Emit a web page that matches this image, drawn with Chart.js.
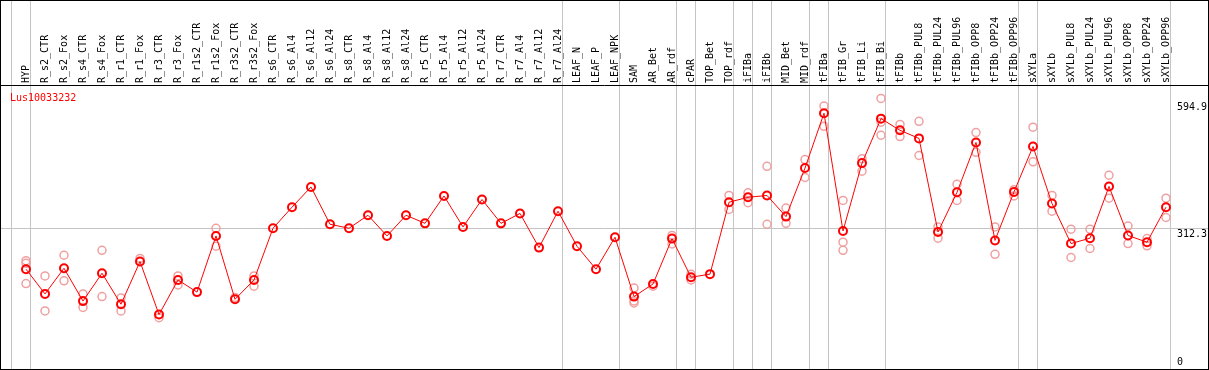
<!DOCTYPE html>
<html>
<head>
<meta charset="utf-8">
<script src="https://cdn.jsdelivr.net/npm/chart.js@4/dist/chart.umd.min.js"></script>
<style>
  html, body { margin: 0; padding: 0; background: #fff; }
  canvas { display: block; }
</style>
</head>
<body>
<canvas id="expr" width="1209" height="370"></canvas>
<script>
// Expression profile - Lus10033232
// ---------------------------------

const seriesName = 'Lus10033232';

const categories = [
    'HYP', 'R_s2_CTR', 'R_s2_Fox', 'R_s4_CTR', 'R_s4_Fox', 'R_r1_CTR', 'R_r1_Fox',
    'R_r3_CTR', 'R_r3_Fox', 'R_r1s2_CTR', 'R_r1s2_Fox', 'R_r3s2_CTR', 'R_r3s2_Fox',
    'R_s6_CTR', 'R_s6_Al4', 'R_s6_Al12', 'R_s6_Al24', 'R_s8_CTR', 'R_s8_Al4',
    'R_s8_Al12', 'R_s8_Al24', 'R_r5_CTR', 'R_r5_Al4', 'R_r5_Al12', 'R_r5_Al24',
    'R_r7_CTR', 'R_r7_Al4', 'R_r7_Al12', 'R_r7_Al24', 'LEAF_N', 'LEAF_P', 'LEAF_NPK',
    'SAM', 'AR_Bet', 'AR_rdf', 'cPAR', 'TOP_Bet', 'TOP_rdf', 'iFIBa', 'iFIBb',
    'MID_Bet', 'MID_rdf', 'tFIBa', 'tFIB_Gr', 'tFIB_Li', 'tFIB_Bi', 'tFIBb',
    'tFIBb_PUL8', 'tFIBb_PUL24', 'tFIBb_PUL96', 'tFIBb_OPP8', 'tFIBb_OPP24', 'tFIBb_OPP96',
    'sXYLa', 'sXYLb', 'sXYLb_PUL8', 'sXYLb_PUL24', 'sXYLb_PUL96', 'sXYLb_OPP8',
    'sXYLb_OPP24', 'sXYLb_OPP96'
];

// mean values (line)
const meanValues = [
    221, 166, 223, 150, 212, 143, 238, 120, 197, 170, 295, 154, 197,
    312, 359, 404, 321, 312, 341, 295, 341, 323, 384, 315, 376,
    323, 345, 269, 350, 272, 221, 292,
    160, 188, 289, 203, 210, 370, 381, 385, 338, 446,
    568, 306, 457, 556, 530, 512, 304, 392, 503, 285, 393,
    494, 367, 278, 290, 405, 296, 281, 359
];

// replicates (pale circles)
const rep1 = [
    240, 206, 252, 166, 263, 157, 245, 113, 206, null, 312, 158, 206,
    null, null, null, null, null, null, null, null, null, null, null, null,
    null, null, null, null, null, null, null,
    179, 183, 296, 210, null, 385, 391, 450, 357, 465,
    584, 374, 467, 601, 543, 550, 315, 410, 525, 315, 398,
    537, 385, 310, 310, 430, 317, 289, 379
];
const rep2 = [
    234, 128, 195, 136, 160, 128, null, null, 186, null, 272, null, 183,
    null, null, null, null, null, null, null, null, null, null, null, null,
    null, null, null, null, null, null, null,
    150, null, 277, 197, null, 354, 369, 321, 323, 425,
    539, 281, 439, 519, 516, 474, 290, 374, 481, 254, 384,
    460, 350, 247, 267, 379, 278, 273, 336
];
const rep3 = [
    189, null, null, null, null, null, null, null, null, null, null, null, null,
    null, null, null, null, null, null, null, null, null, null, null, null,
    null, null, null, null, null, null, null,
    146, null, null, null, null, null, null, null, null, null,
    null, 263, null, 548, null, null, null, null, null, null, null,
    null, null, null, null, null, null, null, null
];

// group separators sit just right of these category indexes
const groupEnds = [-1, 0, 28, 31, 34, 35, 37, 38, 39, 41, 42, 45, 52, 53, 60];
const yTicks = [594.9, 312.3, 0];
const yGrid = [312.3];

const FONT = '10px "DejaVu Sans Mono", monospace';
const GRID = '#c4c4c4';

function toPoints(arr) {
    return arr.map((v, i) => ({ x: i, y: v }));
}

const framePlugin = {
    id: 'frame',
    beforeDatasetsDraw(chart) {
        const ctx = chart.ctx;
        const xs = chart.scales.x;
        const ys = chart.scales.y;
        ctx.save();
        ctx.strokeStyle = GRID;
        ctx.lineWidth = 1;
        ctx.beginPath();
        yGrid.forEach(v => {
            const y = Math.round(ys.getPixelForValue(v)) + 0.5;
            ctx.moveTo(0, y);
            ctx.lineTo(chart.width, y);
        });
        groupEnds.forEach(i => {
            const x = Math.round(xs.getPixelForValue(i + 0.23)) + 0.5;
            ctx.moveTo(x, 0);
            ctx.lineTo(x, chart.height);
        });
        ctx.stroke();
        ctx.restore();
    },
    afterDraw(chart) {
        const ctx = chart.ctx;
        const xs = chart.scales.x;
        const ys = chart.scales.y;
        const top = chart.chartArea.top;
        ctx.save();
        ctx.font = FONT;

        // vertical category labels
        ctx.fillStyle = '#000';
        ctx.textAlign = 'left';
        ctx.textBaseline = 'middle';
        categories.forEach((lab, i) => {
            const x = Math.round(xs.getPixelForValue(i));
            ctx.save();
            ctx.translate(x, top - 2);
            ctx.rotate(-Math.PI / 2);
            ctx.fillText(lab, 0, 0);
            ctx.restore();
        });

        // value labels on the right
        ctx.textBaseline = 'top';
        yTicks.forEach(v => {
            let y = ys.getPixelForValue(v) + 1;
            y = Math.min(y, chart.height - 13);
            ctx.fillText(String(v), 1177, y);
        });

        // series name
        ctx.fillStyle = '#ff0000';
        ctx.textBaseline = 'alphabetic';
        ctx.fillText(seriesName, 10, 101);

        // frame
        ctx.strokeStyle = '#000';
        ctx.lineWidth = 1;
        ctx.strokeRect(0.5, 0.5, chart.width - 1, chart.height - 1);
        ctx.beginPath();
        ctx.moveTo(0, Math.round(top) + 0.5);
        ctx.lineTo(chart.width, Math.round(top) + 0.5);
        ctx.stroke();
        ctx.restore();
    }
};

const repStyle = {
    showLine: false,
    borderColor: '#f0a0a0',
    backgroundColor: 'rgba(0,0,0,0)',
    pointBorderColor: '#f0a0a0',
    pointBackgroundColor: 'rgba(0,0,0,0)',
    pointRadius: 4,
    pointBorderWidth: 1.5,
    order: 2,
    clip: false
};

new Chart(document.getElementById('expr'), {
    type: 'line',
    data: {
        datasets: [
            {
                label: seriesName,
                data: toPoints(meanValues),
                borderColor: '#ff0000',
                borderWidth: 1,
                backgroundColor: 'rgba(0,0,0,0)',
                pointBorderColor: '#ff0000',
                pointBackgroundColor: 'rgba(0,0,0,0)',
                pointRadius: 4,
                pointBorderWidth: 2,
                tension: 0,
                order: 0,
                clip: false
            },
            Object.assign({ label: 'rep1', data: toPoints(rep1) }, repStyle),
            Object.assign({ label: 'rep2', data: toPoints(rep2) }, repStyle),
            Object.assign({ label: 'rep3', data: toPoints(rep3) }, repStyle)
        ]
    },
    options: {
        responsive: false,
        animation: false,
        devicePixelRatio: 1,
        layout: { autoPadding: false, padding: { top: 85, bottom: 1.5, left: 1, right: 1 } },
        plugins: {
            legend: { display: false },
            tooltip: { enabled: false }
        },
        scales: {
            x: { type: 'linear', display: false, min: -25 / 19, max: -25 / 19 + 1207 / 19 },
            y: { type: 'linear', display: false, min: 0, max: 283.5 / 0.4494 }
        }
    },
    plugins: [framePlugin]
});
</script>
</body>
</html>
